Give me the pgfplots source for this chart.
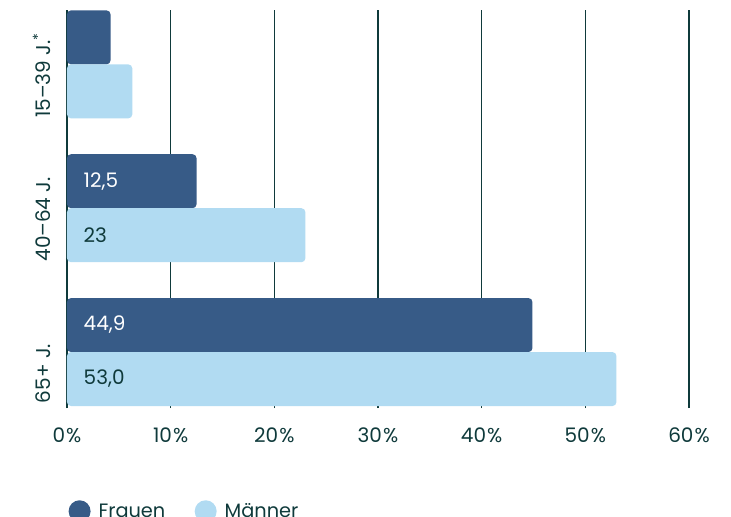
\documentclass[border=0pt]{standalone}
\usepackage{pgfplots}
\pgfplotsset{compat=1.18}
\usepackage{pgfplotstable}
\usepackage{fontspec}
\setmainfont{Poppins}

\definecolor{frauen}{HTML}{375B87}
\definecolor{maenner}{HTML}{B1DBF2}
\definecolor{ink}{HTML}{0F3A3B}

% y: 0 = 65+ J., 1 = 40-64 J., 2 = 15-39 J.
\pgfplotstableread{
y x label
0 44.9 44,9
1 12.5 12,5
2 4.2 {}
}\frauentab
\pgfplotstableread{
y x label
0 53.0 53,0
1 23.0 23
2 6.3 {}
}\maennertab

\pgfplotsset{
  legcirc/.style={legend image code/.code={\fill[##1] (0pt,0pt) circle (8.25pt);}},
}

\begin{document}
\begin{tikzpicture}
\begin{axis}[
    at={(0,0)}, anchor=south west,
    scale only axis,
    width=466.5pt, height=298.5pt,
    xmin=0, xmax=60,
    ymin=-0.389, ymax=2.378,
    xtick={0,10,...,60},
    xticklabel={\pgfmathprintnumber{\tick}\kern0.8pt\%},
    /pgf/number format/assume math mode=true,
    % group labels start at the lower edge of each group
    ytick={-0.388,0.597,1.597},
    yticklabels={65+ J., 40–64 J., 15–39 J.\textsuperscript{*}},
    yticklabel style={rotate=90, anchor=south west},
    yticklabel shift=9pt,
    xticklabel shift=11pt,
    xmajorgrids,
    grid style={ink, line width=1pt},
    axis x line*=bottom, axis y line*=left,
    x axis line style={draw=none},
    y axis line style={ink, line width=1pt, -},
    major tick length=0pt,
    tick label style={font=\fontsize{15}{18}\selectfont, text=ink},
    legend style={draw=none, fill=none, at={(0,0)}, anchor=north west,
        xshift=-2pt, yshift=-67pt,
        legend columns=2, font=\fontsize{14.5}{17}\selectfont, text=ink,
        /tikz/every odd column/.append style={column sep=4pt},
        /tikz/every even column/.append style={column sep=20pt}},
]
\addplot[xbar, bar width=40.5pt, bar shift=20.25pt, fill=frauen, draw=none,
    rounded corners=3pt, legcirc] table[x=x, y=y] {\frauentab};
\addlegendentry{Frauen}
\addplot[xbar, bar width=40.5pt, bar shift=-20.25pt, fill=maenner, draw=none,
    rounded corners=3pt, legcirc] table[x=x, y=y] {\maennertab};
\addlegendentry{Männer}

% value labels at the start of the bars
\addplot[only marks, mark=none, forget plot,
    point meta=explicit symbolic, nodes near coords,
    every node near coord/.append style={anchor=west, xshift=9pt, yshift=20.25pt,
        text=white, font=\fontsize{15}{18}\selectfont}]
    table[x expr=0, y=y, meta=label] {\frauentab};
\addplot[only marks, mark=none, forget plot,
    point meta=explicit symbolic, nodes near coords,
    every node near coord/.append style={anchor=west, xshift=9pt, yshift=-20.25pt,
        text=ink, font=\fontsize{15}{18}\selectfont}]
    table[x expr=0, y=y, meta=label] {\maennertab};
\end{axis}
\pgfresetboundingbox
\useasboundingbox (-50.25pt,-81.75pt) rectangle (498pt,306pt);
\end{tikzpicture}
\end{document}
